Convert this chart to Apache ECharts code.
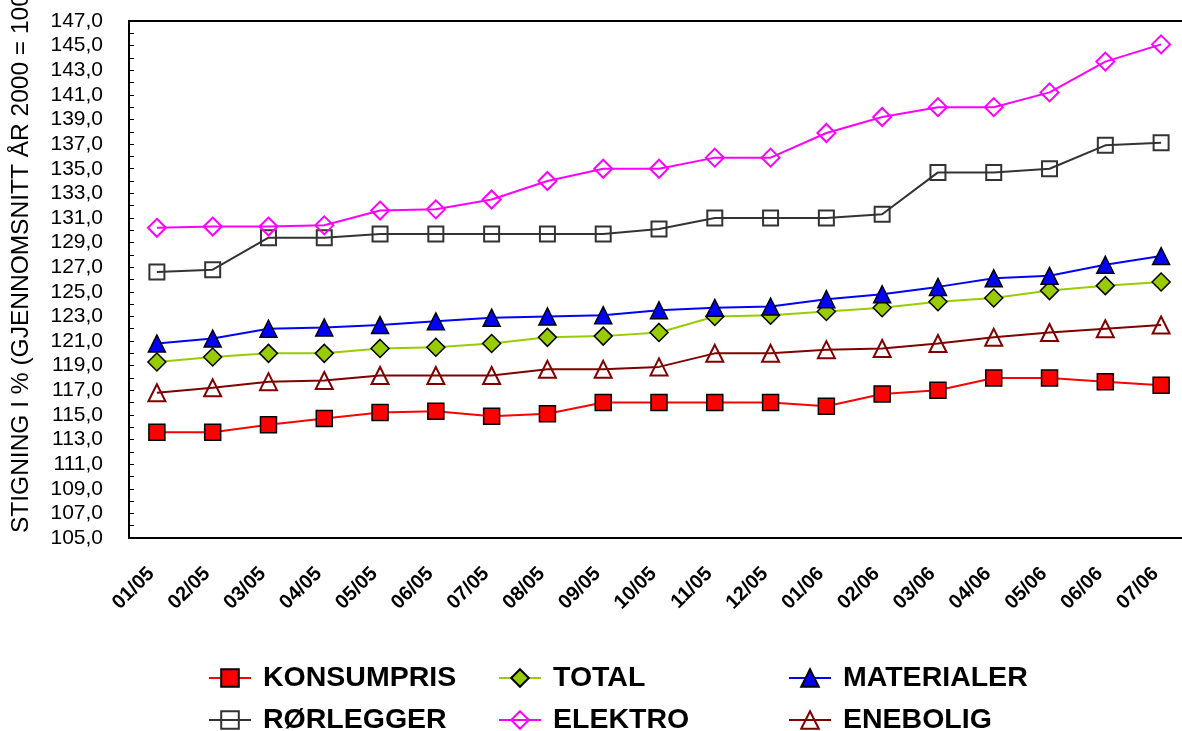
<!DOCTYPE html>
<html>
<head>
<meta charset="utf-8">
<script src="https://cdn.jsdelivr.net/npm/echarts@6/dist/echarts.min.js"></script>
<style>
  html, body { margin: 0; padding: 0; background: #fff; }
  #chart { width: 1182px; height: 731px; }
</style>
</head>
<body>
<div id="chart"></div>
<script>
// Month labels (MM/YY)
const categories = ['01/05', '02/05', '03/05', '04/05', '05/05', '06/05', '07/05', '08/05', '09/05', '10/05',
  '11/05', '12/05', '01/06', '02/06', '03/06', '04/06', '05/06', '06/06', '07/06'];

// Index values, average 2000 = 100
const konsumpris = [113.6, 113.6, 114.2, 114.7, 115.2, 115.3, 114.9, 115.1, 116.0, 116.0,
  116.0, 116.0, 115.7, 116.7, 117.0, 118.0, 118.0, 117.7, 117.4];
const total = [119.3, 119.7, 120.0, 120.0, 120.4, 120.5, 120.8, 121.3, 121.4, 121.7,
  123.0, 123.1, 123.4, 123.7, 124.2, 124.5, 125.1, 125.5, 125.8];
const materialer = [120.8, 121.2, 122.0, 122.1, 122.3, 122.6, 122.9, 123.0, 123.1, 123.5,
  123.7, 123.8, 124.4, 124.8, 125.4, 126.1, 126.3, 127.2, 127.9];
const rorlegger = [126.6, 126.8, 129.4, 129.4, 129.7, 129.7, 129.7, 129.7, 129.7, 130.1,
  131.0, 131.0, 131.0, 131.3, 134.7, 134.7, 135.0, 136.9, 137.1];
const elektro = [130.2, 130.3, 130.3, 130.4, 131.6, 131.7, 132.5, 134.0, 135.0, 135.0,
  135.9, 135.9, 137.9, 139.2, 140.0, 140.0, 141.2, 143.7, 145.1];
const enebolig = [116.8, 117.2, 117.7, 117.8, 118.2, 118.2, 118.2, 118.7, 118.7, 118.9,
  120.0, 120.0, 120.3, 120.4, 120.8, 121.3, 121.7, 122.0, 122.3];

const seriesNames = ['KONSUMPRIS', 'TOTAL', 'MATERIALER', 'RØRLEGGER', 'ELEKTRO', 'ENEBOLIG'];

const yMin = 105, yMax = 147;
const yTitle = 'STIGNING I % (GJENNOMSNITT ÅR 2000 = 100)';

const FONT = '"Liberation Sans", Arial, sans-serif';

function lineSeries(name, data, color, symbol, filled, size) {
  return {
    name: name,
    type: 'line',
    data: data,
    symbol: symbol,
    symbolSize: size,
    showAllSymbol: true,
    lineStyle: { color: color, width: 2 },
    itemStyle: filled
      ? { color: color, borderColor: '#000', borderWidth: 1.5 }
      : { color: 'rgba(255,255,255,0)', borderColor: color, borderWidth: 2 },
    emphasis: { disabled: true },
    animation: false
  };
}

// one legend entry per slot: three columns, two rows
const legendCols = [203, 493, 783];
const legendRows = [673, 715];
const legends = seriesNames.map(function (name, i) {
  return {
    left: legendCols[i % 3],
    top: legendRows[Math.floor(i / 3)] - 15,
    data: [name],
    itemWidth: 42,
    itemHeight: 22,
    selectedMode: false,
    textStyle: {
      fontFamily: FONT,
      fontWeight: 'bold',
      fontSize: 28.5,
      lineHeight: 30,
      color: '#000',
      padding: [0, 0, 0, 7]
    }
  };
});

const chart = echarts.init(document.getElementById('chart'), null, { renderer: 'canvas' });

chart.setOption({
  backgroundColor: '#fff',
  animation: false,
  grid: {
    left: 129, top: 21, width: 1060, height: 517,
    outerBoundsMode: 'none',
    containLabel: false,
    show: true, borderColor: '#000', borderWidth: 2
  },
  legend: legends,
  xAxis: [
    {
      type: 'category',
      data: categories,
      boundaryGap: true,
      axisLine: { lineStyle: { color: '#000', width: 2 } },
      axisTick: { inside: true, length: 5, lineStyle: { color: '#000', width: 1 } },
      axisLabel: {
        interval: 0, rotate: 45, margin: 27,
        padding: [0, 8, 0, 0],
        fontFamily: FONT, fontWeight: 'bold', fontSize: 20, color: '#000'
      },
      splitLine: { show: false }
    },
    {
      // centre ticks between the boundary ticks
      type: 'category',
      data: categories,
      position: 'bottom',
      boundaryGap: true,
      axisLine: { show: false },
      axisTick: { inside: true, alignWithLabel: true, length: 5, lineStyle: { color: '#000', width: 1 } },
      axisLabel: { show: false },
      splitLine: { show: false }
    }
  ],
  yAxis: {
    type: 'value',
    min: yMin, max: yMax, interval: 1,
    axisLine: { show: true, lineStyle: { color: '#000', width: 2 } },
    axisTick: { show: true, inside: true, length: 5, lineStyle: { color: '#000', width: 1 } },
    axisLabel: {
      margin: 26,
      fontFamily: FONT, fontSize: 21, color: '#000',
      formatter: function (v) {
        return (Math.round(v) % 2 === 1) ? v.toFixed(1).replace('.', ',') : '';
      }
    },
    splitLine: { show: false }
  },
  graphic: [
    {
      type: 'text',
      x: 21, y: 533,
      rotation: Math.PI / 2,
      style: {
        text: yTitle,
        fontFamily: FONT, fontSize: 24.5, fill: '#000',
        align: 'left', verticalAlign: 'middle'
      }
    }
  ],
  series: [
    lineSeries('KONSUMPRIS', konsumpris, '#FF0000', 'rect', true, 16),
    lineSeries('TOTAL', total, '#99CC00', 'diamond', true, 18),
    lineSeries('MATERIALER', materialer, '#0000FF', 'triangle', true, 17),
    lineSeries('RØRLEGGER', rorlegger, '#333333', 'rect', false, 15),
    lineSeries('ELEKTRO', elektro, '#FF00FF', 'diamond', false, 18),
    lineSeries('ENEBOLIG', enebolig, '#800000', 'triangle', false, 17)
  ]
});
</script>
</body>
</html>
